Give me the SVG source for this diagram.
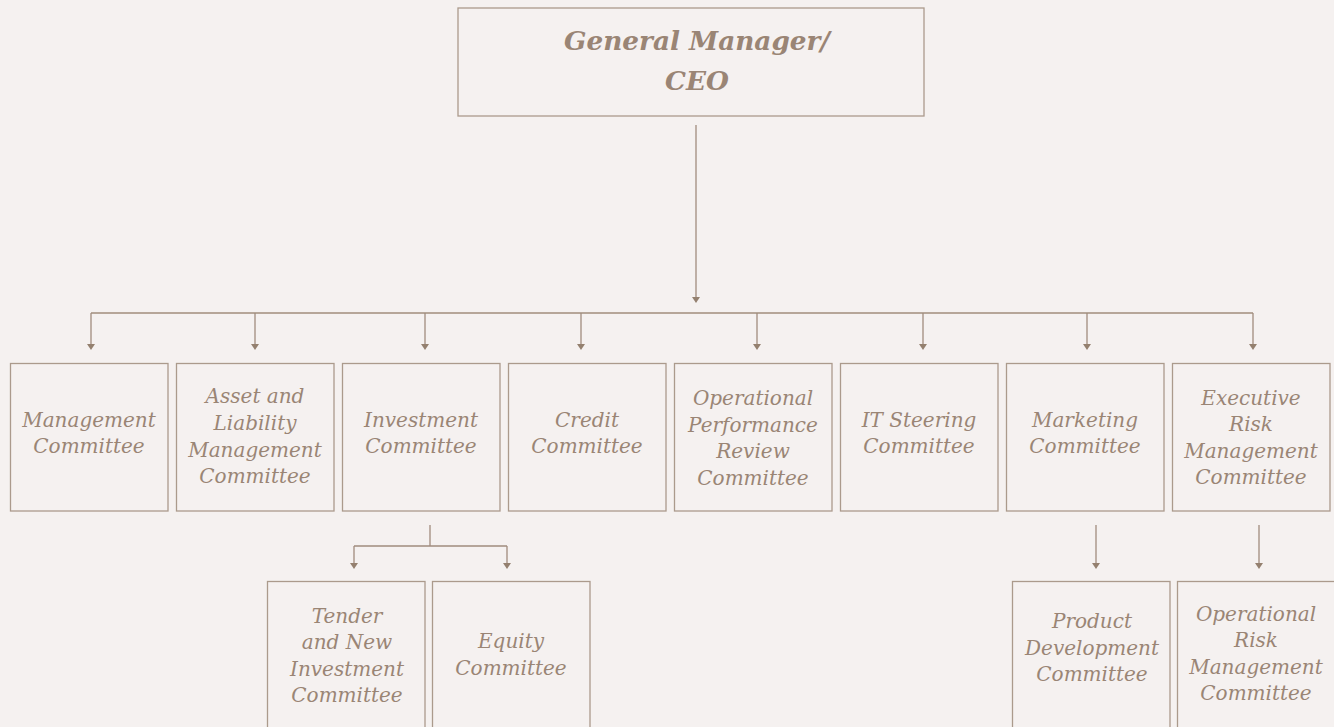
<svg xmlns="http://www.w3.org/2000/svg" width="1334" height="727" viewBox="0 0 1334 727">
<defs>
<style>
.box{fill:none;stroke:#ab9a8c;stroke-width:1.3}
.t{font-family:"DejaVu Serif","Liberation Serif",serif;font-style:italic;font-size:20px;fill:#9a8575;text-anchor:middle}
.h{font-family:"DejaVu Serif","Liberation Serif",serif;font-style:italic;font-weight:bold;font-size:26.3px;fill:#9a8575;text-anchor:middle}
.c{fill:none;stroke:#a08c7d;stroke-width:1.3}
</style>
</defs>
<rect width="1334" height="727" fill="#f5f1f0"/>
<g id="connectors">
<path class="c" d="M696,125 V298"/>
<path d="M692,297 L700,297 L696,303 Z" fill="#94806f"/>
<path class="c" d="M91,313 H1253"/>
<g fill="#94806f">
<path class="c" d="M91,313 V345"/><path d="M87,344 L95,344 L91,350 Z"/>
<path class="c" d="M255,313 V345"/><path d="M251,344 L259,344 L255,350 Z"/>
<path class="c" d="M425,313 V345"/><path d="M421,344 L429,344 L425,350 Z"/>
<path class="c" d="M581,313 V345"/><path d="M577,344 L585,344 L581,350 Z"/>
<path class="c" d="M757,313 V345"/><path d="M753,344 L761,344 L757,350 Z"/>
<path class="c" d="M923,313 V345"/><path d="M919,344 L927,344 L923,350 Z"/>
<path class="c" d="M1087,313 V345"/><path d="M1083,344 L1091,344 L1087,350 Z"/>
<path class="c" d="M1253,313 V345"/><path d="M1249,344 L1257,344 L1253,350 Z"/>
<path class="c" d="M430,525 V546 M354,546 H507 M354,546 V564 M507,546 V564"/>
<path d="M350,563 L358,563 L354,569 Z"/><path d="M503,563 L511,563 L507,569 Z"/>
<path class="c" d="M1096,525 V564"/><path d="M1092,563 L1100,563 L1096,569 Z"/>
<path class="c" d="M1259,525 V564"/><path d="M1255,563 L1263,563 L1259,569 Z"/>
</g>
</g>
<g id="ceo"><rect class="box" x="458" y="8" width="466" height="108"/>
<text class="h" x="697" y="50">General Manager/</text><text class="h" x="697" y="90">CEO</text></g>
<g id="mgmt"><rect class="box" x="10.5" y="363.5" width="157.5" height="147.5"/>
<text class="t" x="89" y="427">Management</text><text class="t" x="89" y="453">Committee</text></g>
<g id="alm"><rect class="box" x="176.5" y="363.5" width="157.5" height="147.5"/>
<text class="t" x="255" y="403">Asset and</text><text class="t" x="255" y="430">Liability</text><text class="t" x="255" y="457">Management</text><text class="t" x="255" y="483">Committee</text></g>
<g id="inv"><rect class="box" x="342.5" y="363.5" width="157.5" height="147.5"/>
<text class="t" x="421" y="427">Investment</text><text class="t" x="421" y="453">Committee</text></g>
<g id="credit"><rect class="box" x="508.5" y="363.5" width="157.5" height="147.5"/>
<text class="t" x="587" y="427">Credit</text><text class="t" x="587" y="453">Committee</text></g>
<g id="oprc"><rect class="box" x="674.5" y="363.5" width="157.5" height="147.5"/>
<text class="t" x="753" y="405">Operational</text><text class="t" x="753" y="432">Performance</text><text class="t" x="753" y="458">Review</text><text class="t" x="753" y="485">Committee</text></g>
<g id="it"><rect class="box" x="840.5" y="363.5" width="157.5" height="147.5"/>
<text class="t" x="919" y="427">IT Steering</text><text class="t" x="919" y="453">Committee</text></g>
<g id="mkt"><rect class="box" x="1006.5" y="363.5" width="157.5" height="147.5"/>
<text class="t" x="1085" y="427">Marketing</text><text class="t" x="1085" y="453">Committee</text></g>
<g id="erm"><rect class="box" x="1172.5" y="363.5" width="157.5" height="147.5"/>
<text class="t" x="1251" y="405">Executive</text><text class="t" x="1251" y="431">Risk</text><text class="t" x="1251" y="458">Management</text><text class="t" x="1251" y="484">Committee</text></g>
<g id="tender"><rect class="box" x="267.5" y="581.5" width="157.5" height="160"/>
<text class="t" x="347" y="623">Tender</text><text class="t" x="347" y="649">and New</text><text class="t" x="347" y="676">Investment</text><text class="t" x="347" y="702">Committee</text></g>
<g id="equity"><rect class="box" x="432.5" y="581.5" width="157.5" height="160"/>
<text class="t" x="511" y="648">Equity</text><text class="t" x="511" y="675">Committee</text></g>
<g id="pdc"><rect class="box" x="1012.5" y="581.5" width="157.5" height="160"/>
<text class="t" x="1092" y="628">Product</text><text class="t" x="1092" y="655">Development</text><text class="t" x="1092" y="681">Committee</text></g>
<g id="orm"><rect class="box" x="1177.5" y="581.5" width="157.5" height="160"/>
<text class="t" x="1256" y="621">Operational</text><text class="t" x="1256" y="647">Risk</text><text class="t" x="1256" y="674">Management</text><text class="t" x="1256" y="700">Committee</text></g>
</svg>
